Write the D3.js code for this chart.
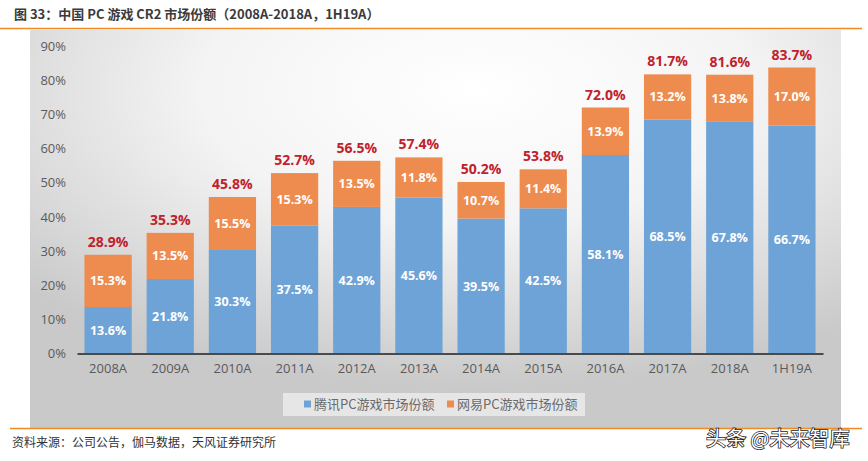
<!DOCTYPE html>
<html><head><meta charset="utf-8">
<script src="https://cdn.jsdelivr.net/npm/d3@7"></script>
<style>body{margin:0;background:#fff;}svg{display:block;}</style>
</head><body>
<svg id="c" width="868" height="461"></svg>
<script>
const categories = ["2008A","2009A","2010A","2011A","2012A","2013A","2014A","2015A","2016A","2017A","2018A","1H19A"];
const tencent = [13.6,21.8,30.3,37.5,42.9,45.6,39.5,42.5,58.1,68.5,67.8,66.7];
const netease = [15.3,13.5,15.5,15.3,13.5,11.8,10.7,11.4,13.9,13.2,13.8,17.0];
const totals = [28.9,35.3,45.8,52.7,56.5,57.4,50.2,53.8,72.0,81.7,81.6,83.7];
const yTicks = [0,10,20,30,40,50,60,70,80,90];
const seriesNames = ["腾讯PC游戏市场份额","网易PC游戏市场份额"];
const colors = ["#6ea3d7","#ee8b4e"];

const svg = d3.select("#c");
const defs = svg.append("defs");
const rg = defs.append("radialGradient").attr("id","bg").attr("cx","0.55").attr("cy","0.15").attr("r","0.75");
rg.append("stop").attr("offset","0").attr("stop-color","#ffffff");
rg.append("stop").attr("offset","0.45").attr("stop-color","#f4f4f4");
rg.append("stop").attr("offset","1").attr("stop-color","#c9c9c9");

const cjk = "'Noto Sans CJK SC','Noto Sans',sans-serif";
const num = "'Open Sans','Noto Sans',sans-serif";

// title
svg.append("text").attr("x",14).attr("y",19).attr("font-family",cjk).attr("font-size",13).attr("font-weight","bold")
  .attr("fill","#3a3a3a").text("图 33：中国 PC 游戏 CR2 市场份额（2008A-2018A，1H19A）");
// panel
svg.append("rect").attr("x",30).attr("y",30).attr("width",811).attr("height",398).attr("fill","url(#bg)");
svg.append("line").attr("x1",0).attr("x2",862).attr("y1",28.5).attr("y2",28.5).attr("stroke","#f08a24").attr("stroke-width",1.5);
svg.append("line").attr("x1",10).attr("x2",862).attr("y1",428.5).attr("y2",428.5).attr("stroke","#f08a24").attr("stroke-width",1.5);

const x = d3.scaleBand().domain(categories).range([77,823]).paddingInner(0.24).paddingOuter(0.12);
const y = d3.scaleLinear().domain([0,90]).range([353.5,46]);

// y axis
const ya = svg.append("g").attr("transform","translate(66,0)")
  .call(d3.axisLeft(y).tickValues(yTicks).tickFormat(d=>d+"%").tickSize(0).tickPadding(0));
ya.select(".domain").remove();
ya.selectAll("text").attr("font-family",num).attr("font-size",13).attr("fill","#5a5a5a");

// bars
const g = svg.append("g");
categories.forEach((c,i)=>{
  const t = tencent[i], n = netease[i];
  g.append("rect").attr("x",x(c)).attr("width",x.bandwidth()).attr("y",y(t)).attr("height",y(0)-y(t)).attr("fill",colors[0]);
  g.append("rect").attr("x",x(c)).attr("width",x.bandwidth()).attr("y",y(t+n)).attr("height",y(t)-y(t+n)).attr("fill",colors[1]);
  const cx = x(c)+x.bandwidth()/2;
  g.append("text").attr("x",cx).attr("y",(y(0)+y(t))/2+4.5).attr("text-anchor","middle").attr("font-family",num)
    .attr("font-size",12.5).attr("font-weight","bold").attr("fill","#fff").text(t.toFixed(1)+"%");
  g.append("text").attr("x",cx).attr("y",(y(t)+y(t+n))/2+4.5).attr("text-anchor","middle").attr("font-family",num)
    .attr("font-size",12.5).attr("font-weight","bold").attr("fill","#fff").text(n.toFixed(1)+"%");
  g.append("text").attr("x",cx).attr("y",y(t+n)-8).attr("text-anchor","middle").attr("font-family",num)
    .attr("font-size",14).attr("font-weight","bold").attr("fill","#c0212b").text(totals[i].toFixed(1)+"%");
});

// x axis
const xa = svg.append("g").attr("transform","translate(0,"+y(0)+")")
  .call(d3.axisBottom(x).tickSize(0).tickPadding(10));
xa.select(".domain").attr("stroke","#4a4a4a").attr("stroke-width",2);
xa.selectAll("text").attr("font-family",num).attr("font-size",13).attr("fill","#5a5a5a");

// legend
svg.append("rect").attr("x",283).attr("y",393).attr("width",302).attr("height",23).attr("fill","#ededed").attr("opacity",0.8);
const lg = [[304,seriesNames[0],colors[0]],[447,seriesNames[1],colors[1]]];
lg.forEach(([lx,name,col])=>{
  svg.append("rect").attr("x",lx).attr("y",400.5).attr("width",7).attr("height",7).attr("fill",col);
  svg.append("text").attr("x",lx+10).attr("y",409).attr("font-family",cjk).attr("font-size",13).attr("fill","#6a6a6a").text(name);
});

// source
svg.append("text").attr("x",12).attr("y",447).attr("font-family",cjk).attr("font-size",12).attr("fill","#333").text("资料来源：公司公告，伽马数据，天风证券研究所");
// watermark
svg.append("text").attr("x",706).attr("y",446).attr("font-family",cjk).attr("font-size",20)
  .attr("fill","#fff").attr("stroke","#222").attr("stroke-width",1.6).attr("paint-order","stroke").text("头条 @未来智库");
</script>
</body></html>
